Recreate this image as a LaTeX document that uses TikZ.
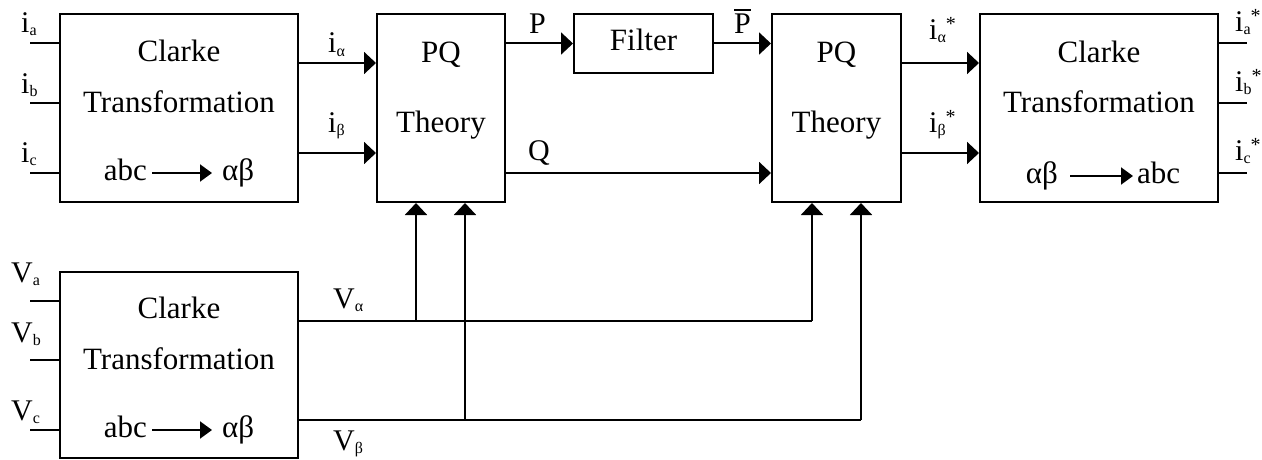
\documentclass[tikz,border=0pt]{standalone}
\usepackage{fontspec}
\setmainfont{Liberation Serif}
\usetikzlibrary{arrows.meta}
\newcommand{\sig}[2]{{\fontsize{30}{30}\selectfont #1}\raisebox{-3pt}{\fontsize{16}{16}\selectfont #2}}
\newcommand{\sigs}[2]{\sig{#1}{#2}\raisebox{9pt}{\fontsize{20}{20}\selectfont *}}
\newcommand{\barP}{\setbox0\hbox{P}\rlap{\raisebox{23pt}{\rule{\wd0}{1.6pt}}}P}
\begin{document}
\begin{tikzpicture}[x=1pt,y=-1pt,
 box/.style={draw, line width=2pt, inner sep=0pt},
 txt/.style={font=\fontsize{31}{31}\selectfont, inner sep=0pt, text height=21pt, text depth=7pt},
 lab/.style={inner sep=0pt, anchor=base west},
 big/.style={font=\fontsize{30}{30}\selectfont},
 wire/.style={line width=2pt},
 arr/.style={line width=2pt, -{Triangle[length=12pt,width=22pt]}},
 iarr/.style={line width=2pt, -{Triangle[length=12pt,width=17pt]}}]
\useasboundingbox (0,0) rectangle (1262,460);

% boxes
\node[box, minimum width=238pt, minimum height=188pt] (c1) at (179,108) {};
\node[box, minimum width=128pt, minimum height=188pt] (pq1) at (441,108) {};
\node[box, minimum width=139pt, minimum height=59pt] (flt) at (643.5,43.5) {};
\node[box, minimum width=129pt, minimum height=188pt] (pq2) at (836.5,108) {};
\node[box, minimum width=238pt, minimum height=188pt] (c2) at (1099,108) {};
\node[box, minimum width=238pt, minimum height=186pt] (c3) at (179,365) {};

% box texts
\node[txt, anchor=base] (c1t1) at (179,62) {Clarke};
\node[txt, anchor=base] (c1t2) at (179,113) {Transformation};
\node[txt, anchor=base east] (c1a) at (147,180) {abc};
\node[txt, anchor=base west] (c1b) at (222,180) {αβ};
\draw[iarr, shorten <=5pt, shorten >=10pt] (c1a.east) -- (c1b.west);

\node[txt, anchor=base] (p1t1) at (441,63) {PQ};
\node[txt, anchor=base] (p1t2) at (441,132) {Theory};
\node[txt] (ft) at (flt.center) {Filter};
\node[txt, anchor=base] (p2t1) at (836.5,63) {PQ};
\node[txt, anchor=base] (p2t2) at (836.5,132) {Theory};

\node[txt, anchor=base] (c2t1) at (1099,63) {Clarke};
\node[txt, anchor=base] (c2t2) at (1099,113) {Transformation};
\node[txt, anchor=base east] (c2a) at (1058,183) {αβ};
\node[txt, anchor=base west] (c2b) at (1137,183) {abc};
\draw[iarr, shorten <=12pt, shorten >=4pt] (c2a.east) -- (c2b.west);

\node[txt, anchor=base] (c3t1) at (179,318) {Clarke};
\node[txt, anchor=base] (c3t2) at (179,369) {Transformation};
\node[txt, anchor=base east] (c3a) at (147,437) {abc};
\node[txt, anchor=base west] (c3b) at (222,437) {αβ};
\draw[iarr, shorten <=5pt, shorten >=10pt] (c3a.east) -- (c3b.west);

% input wires
\coordinate (ia) at (30,43);
\coordinate (ib) at (30,103);
\coordinate (ic) at (30,173);
\coordinate (va) at (30,301);
\coordinate (vb) at (30,360);
\coordinate (vc) at (30,430);
\foreach \c/\b in {ia/c1,ib/c1,ic/c1,va/c3,vb/c3,vc/c3}
  \draw[wire] (\c) -- (\c -| \b.west);

% output wires
\coordinate (oa) at (1247,43);
\coordinate (ob) at (1247,103);
\coordinate (oc) at (1247,173);
\foreach \c in {oa,ob,oc}
  \draw[wire] (c2.east |- \c) -- (\c);

% signal arrows
\coordinate (yA) at (0,63);
\coordinate (yB) at (0,153);
\coordinate (yQ) at (0,173);
\draw[arr] (c1.east |- yA) -- (pq1.west |- yA);
\draw[arr] (c1.east |- yB) -- (pq1.west |- yB);
\draw[arr] (pq1.east |- flt.west) -- (flt.west);
\draw[arr] (flt.east) -- (flt.east -| pq2.west);
\draw[arr] (pq1.east |- yQ) -- (pq2.west |- yQ);
\draw[arr] (pq2.east |- yA) -- (c2.west |- yA);
\draw[arr] (pq2.east |- yB) -- (c2.west |- yB);

% voltage feeds
\coordinate (xa1) at (416,321);
\coordinate (xa2) at (812,321);
\coordinate (xb1) at (465,420);
\coordinate (xb2) at (861,420);
\draw[wire] (c3.east |- xa1) -- (xa2);
\draw[wire] (c3.east |- xb1) -- (xb2);
\draw[arr] (xa1) -- (xa1 |- pq1.south);
\draw[arr] (xb1) -- (xb1 |- pq1.south);
\draw[arr] (xa2) -- (xa2 |- pq2.south);
\draw[arr] (xb2) -- (xb2 |- pq2.south);

% labels
\node[lab] (lia) at (21,33) {\sig{i}{a}};
\node[lab] (lib) at (21,93) {\sig{i}{b}};
\node[lab] (lic) at (21,162) {\sig{i}{c}};
\node[lab] (lial) at (328,53) {\sig{i}{α}};
\node[lab] (libe) at (328,132) {\sig{i}{β}};
\node[lab, big] (lP) at (529,34) {P};
\node[lab, big] (lPb) at (734,34) {\barP};
\node[lab, big] (lQ) at (528,160) {Q};
\node[lab] (lias) at (929,40) {\sigs{i}{α}};
\node[lab] (libs) at (929,132) {\sigs{i}{β}};
\node[lab] (loa) at (1235,32) {\sigs{i}{a}};
\node[lab] (lob) at (1235,92) {\sigs{i}{b}};
\node[lab] (loc) at (1235,160) {\sigs{i}{c}};
\node[lab] (lva) at (11,282) {\sig{V}{a}};
\node[lab] (lvb) at (11,342) {\sig{V}{b}};
\node[lab] (lvc) at (11,420) {\sig{V}{c}};
\node[lab] (lval) at (333,308) {\sig{V}{α}};
\node[lab] (lvbe) at (333,450) {\sig{V}{β}};
\end{tikzpicture}
\end{document}
